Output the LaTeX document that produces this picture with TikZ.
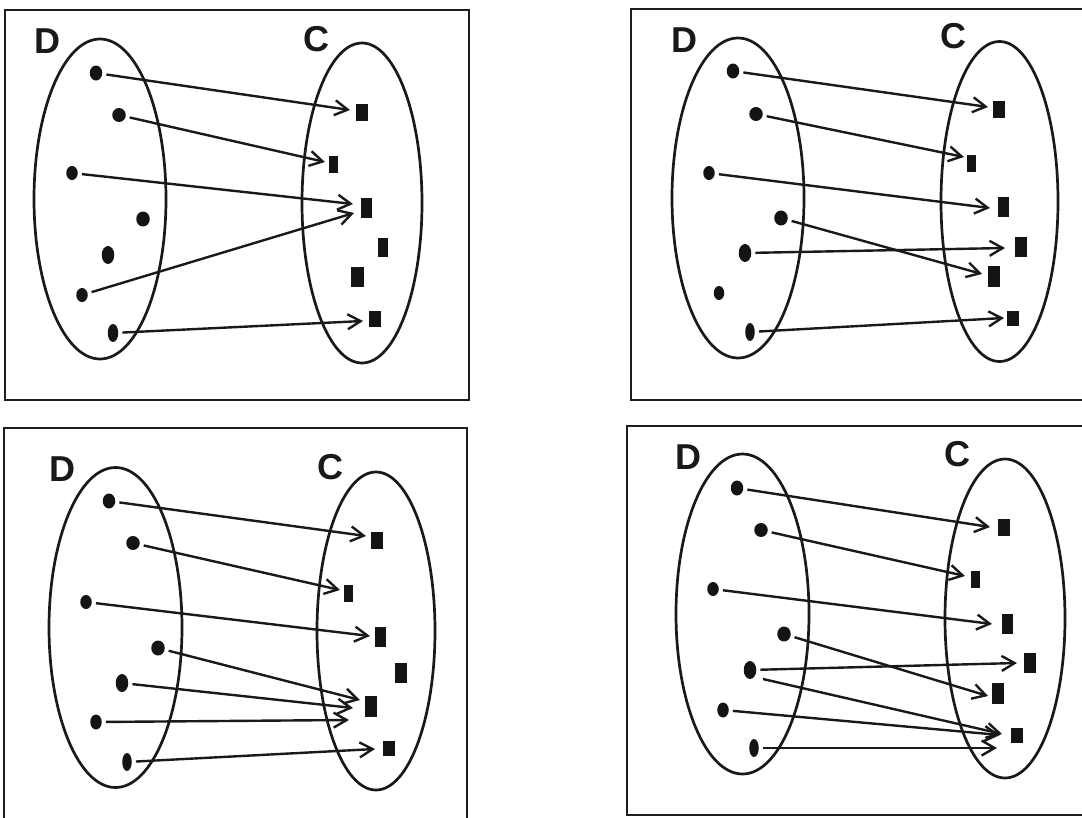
\documentclass[tikz,border=0pt]{standalone}
\usepackage{fontspec}
\setmainfont{Liberation Sans}
\usetikzlibrary{arrows.meta,shapes.geometric}
\begin{document}
\begin{tikzpicture}[x=1pt,y=-1pt,
  frame/.style={draw=black!88, line width=2.8pt},
  setbox/.style 2 args={draw=black!90, ellipse, line width=2.7pt, inner sep=0pt, minimum width=#1pt, minimum height=#2pt},
  lbl/.style={inner sep=0pt, font=\bfseries\fontsize{36pt}{40pt}\selectfont, text=black!90},
  dot/.style 2 args={ellipse, fill=black!92, inner sep=0pt, minimum width=#1pt+1.5pt, minimum height=#2pt+2pt},
  sq/.style 2 args={rectangle, fill=black!92, inner sep=0pt, minimum width=#1pt+1pt, minimum height=#2pt+2pt},
  arr/.style={draw=black!90, line width=2.4pt, -{Straight Barb[length=13pt,width=15pt]}, shorten <=4pt}
]
\useasboundingbox[fill=white] (0,0) rectangle (1082,817);

% ---------- Panel 1 ----------
\draw[frame] (5,10) rectangle (469,400);
\node[lbl] (p1D) at (47,41) {D};
\node[lbl] (p1C) at (316,39) {C};
\node[setbox={132}{320}] (p1L) at (100,199) {};
\node[setbox={120}{320}] (p1R) at (362,203) {};
\node[dot={11}{13}] (p1d1) at (96,73) {};
\node[dot={12}{12}] (p1d2) at (119,115) {};
\node[dot={10}{12}] (p1d3) at (72,173) {};
\node[dot={12}{13}] (p1d4) at (143,219) {};
\node[dot={11}{16}] (p1d5) at (108,255) {};
\node[dot={10}{12}] (p1d6) at (82,295) {};
\node[dot={9}{16}] (p1d7) at (113,333) {};
\node[sq={11}{15}] (p1s1) at (362,112) {};
\node[sq={8}{15}] (p1s2) at (333,164) {};
\node[sq={10}{18}] (p1s3) at (366,208) {};
\node[sq={9}{17}] (p1s4) at (383,247) {};
\node[sq={12}{18}] (p1s5) at (357,277) {};
\node[sq={11}{14}] (p1s6) at (375,319) {};
\draw[arr] (p1d1) -- ([shift={(-12,-2)}]p1s1.center);
\draw[arr] (p1d2) -- ([shift={(-8,-2)}]p1s2.center);
\draw[arr] (p1d3) -- ([shift={(-13,-4)}]p1s3.center);
\draw[arr] (p1d6) -- ([shift={(-12,5)}]p1s3.center);
\draw[arr] (p1d7) -- ([shift={(-12,2)}]p1s6.center);

% ---------- Panel 2 ----------
\draw[frame] (631,9) rectangle (1095,400);
\node[lbl] (p2D) at (684,40) {D};
\node[lbl] (p2C) at (953,36) {C};
\node[setbox={132}{320}] (p2L) at (738,198) {};
\node[setbox={117}{320}] (p2R) at (999.5,201.5) {};
\node[dot={11}{13}] (p2d1) at (733,71) {};
\node[dot={12}{12}] (p2d2) at (756,114) {};
\node[dot={10}{12}] (p2d3) at (709,173) {};
\node[dot={12}{13}] (p2d4) at (781,218) {};
\node[dot={11}{16}] (p2d5) at (745,253) {};
\node[dot={9}{12}] (p2d6) at (719,293) {};
\node[dot={8}{16}] (p2d7) at (750,332) {};
\node[sq={11}{15}] (p2s1) at (999,109) {};
\node[sq={8}{15}] (p2s2) at (971,163) {};
\node[sq={10}{18}] (p2s3) at (1003,207) {};
\node[sq={11}{18}] (p2s4) at (1021,247) {};
\node[sq={11}{19}] (p2s5) at (994,276) {};
\node[sq={11}{13}] (p2s6) at (1013,318) {};
\draw[arr] (p2d1) -- ([shift={(-11,-2)}]p2s1.center);
\draw[arr] (p2d2) -- ([shift={(-7,-6)}]p2s2.center);
\draw[arr] (p2d3) -- ([shift={(-13,1)}]p2s3.center);
\draw[arr] (p2d4) -- ([shift={(-12,-2)}]p2s5.center);
\draw[arr] (p2d5) -- ([shift={(-16,1)}]p2s4.center);
\draw[arr] (p2d7) -- ([shift={(-9,0)}]p2s6.center);

% ---------- Panel 3 ----------
\draw[frame] (4,428) rectangle (467,845);
\node[lbl] (p3D) at (62,469) {D};
\node[lbl] (p3C) at (330,467) {C};
\node[setbox={133}{320}] (p3L) at (115.5,627.5) {};
\node[setbox={118}{318}] (p3R) at (376,631) {};
\node[dot={11}{13}] (p3d1) at (109,501) {};
\node[dot={12}{12}] (p3d2) at (133,543) {};
\node[dot={10}{12}] (p3d3) at (86,602) {};
\node[dot={12}{13}] (p3d4) at (158,648) {};
\node[dot={11}{16}] (p3d5) at (122,683) {};
\node[dot={10}{13}] (p3d6) at (96,722) {};
\node[dot={8}{16}] (p3d7) at (127,762) {};
\node[sq={11}{15}] (p3s1) at (377,540) {};
\node[sq={8}{15}] (p3s2) at (348,593) {};
\node[sq={10}{18}] (p3s3) at (380,637) {};
\node[sq={11}{18}] (p3s4) at (401,673) {};
\node[sq={11}{19}] (p3s5) at (371,706) {};
\node[sq={11}{13}] (p3s6) at (389,748) {};
\draw[arr] (p3d1) -- ([shift={(-11,-4)}]p3s1.center);
\draw[arr] (p3d2) -- ([shift={(-8,-3)}]p3s2.center);
\draw[arr] (p3d3) -- ([shift={(-10,-1)}]p3s3.center);
\draw[arr] (p3d4) -- ([shift={(-11,-6)}]p3s5.center);
\draw[arr] (p3d5) -- ([shift={(-18,2)}]p3s5.center);
\draw[arr] (p3d6) -- ([shift={(-22,14)}]p3s5.center);
\draw[arr] (p3d7) -- ([shift={(-14,1)}]p3s6.center);

% ---------- Panel 4 ----------
\draw[frame] (627,426) rectangle (1095,815);
\node[lbl] (p4D) at (688,457) {D};
\node[lbl] (p4C) at (957,454) {C};
\node[setbox={133}{320}] (p4L) at (742.5,614) {};
\node[setbox={120}{319}] (p4R) at (1005,618.5) {};
\node[dot={11}{13}] (p4d1) at (737,488) {};
\node[dot={12}{12}] (p4d2) at (761,530) {};
\node[dot={10}{12}] (p4d3) at (713,589) {};
\node[dot={12}{13}] (p4d4) at (784,634) {};
\node[dot={11}{16}] (p4d5) at (750,670) {};
\node[dot={10}{13}] (p4d6) at (723,710) {};
\node[dot={8}{16}] (p4d7) at (754,748) {};
\node[sq={11}{15}] (p4s1) at (1004,527) {};
\node[sq={8}{15}] (p4s2) at (975,579) {};
\node[sq={10}{18}] (p4s3) at (1007,624) {};
\node[sq={11}{18}] (p4s4) at (1030,663) {};
\node[sq={11}{19}] (p4s5) at (998,693) {};
\node[sq={11}{13}] (p4s6) at (1017,735) {};
\draw[arr] (p4d1) -- ([shift={(-14,0)}]p4s1.center);
\draw[arr] (p4d2) -- ([shift={(-10,-3)}]p4s2.center);
\draw[arr] (p4d3) -- ([shift={(-15,0)}]p4s3.center);
\draw[arr] (p4d4) -- ([shift={(-10,3)}]p4s5.center);
\draw[arr] (p4d5) -- ([shift={(-13,0)}]p4s4.center);
\draw[arr, shorten <=0pt] ([shift={(13,9)}]p4d5.center) -- ([shift={(-15,-1)}]p4s6.center);
\draw[arr] (p4d6) -- ([shift={(-17,0)}]p4s6.center);
\draw[arr] (p4d7) -- ([shift={(-20,13)}]p4s6.center);
\end{tikzpicture}
\end{document}
